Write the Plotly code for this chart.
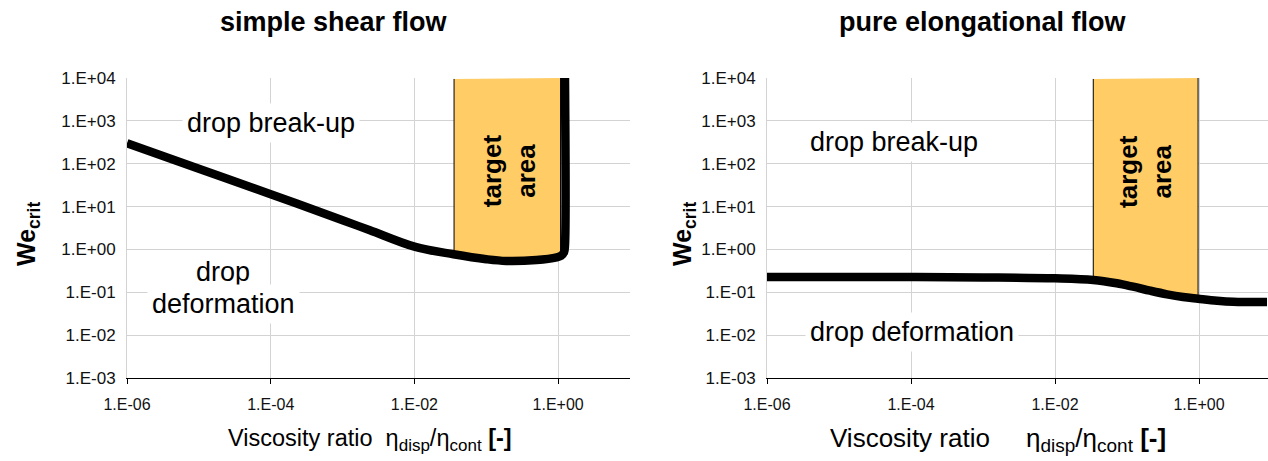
import plotly.graph_objects as go
from plotly.subplots import make_subplots

# ---- data -------------------------------------------------------------
# simple shear flow: critical Weber number vs viscosity ratio
shear_ratio = [1e-6, 1e-5, 1e-4, 1e-3, 2.4e-3, 1e-2, 3.5e-2, 0.1, 0.19, 0.5,
               0.955, 1.1, 1.21, 1.245, 1.245]
shear_we = [300, 76, 19.5, 4.8, 2.8, 1.16, 0.77, 0.59, 0.537, 0.566,
            0.655, 0.71, 0.87, 1.26, 1e4]

# pure elongational flow
elong_ratio = [1e-6, 1e-5, 1e-4, 1e-3, 1e-2, 0.034, 0.072, 0.121, 0.209, 0.36,
               0.60, 0.97, 1.78, 2.97, 8.8]
elong_we = [0.227, 0.227, 0.226, 0.222, 0.212, 0.194, 0.162, 0.135, 0.109, 0.0897,
            0.0776, 0.0708, 0.0636, 0.060, 0.059]

# target areas (ratio / We outlines)
shear_target_ratio = [0.0356, 0.0356, 0.1, 0.19, 0.5, 0.955, 1.08, 1.08]
shear_target_we = [9.5e3, 0.77, 0.59, 0.537, 0.566, 0.655, 0.70, 1e4]

elong_target_ratio = [0.034, 0.034, 0.072, 0.121, 0.209, 0.36, 0.60, 0.97, 0.97]
elong_target_we = [9.5e3, 0.194, 0.162, 0.135, 0.109, 0.0897, 0.0776, 0.0708, 1e4]

x_tick_vals = [1e-6, 1e-4, 1e-2, 1e0]
x_tick_text = ["1.E-06", "1.E-04", "1.E-02", "1.E+00"]
y_tick_vals = [1e-3, 1e-2, 1e-1, 1e0, 1e1, 1e2, 1e3, 1e4]
y_tick_text = ["1.E-03", "1.E-02", "1.E-01", "1.E+00", "1.E+01", "1.E+02",
               "1.E+03", "1.E+04"]

titles = ["simple shear flow", "pure elongational flow"]

# ---- styling ----------------------------------------------------------
FONT = "Arial, 'Liberation Sans', sans-serif"
GRID = "#d3d3d3"
TARGET_FILL = "#FFCC66"
W, H = 1268, 461
L, R, T, B = 127, 0, 78, 83
PW = W - L - R
PH = H - T - B


def px_x(p):
    return (p - L) / PW


def px_y(p):
    return (H - B - p) / PH


fig = make_subplots(rows=1, cols=2, horizontal_spacing=0.05)

for col, (tx, ty, cx, cy) in enumerate(
        [(shear_target_ratio, shear_target_we, shear_ratio, shear_we),
         (elong_target_ratio, elong_target_we, elong_ratio, elong_we)], start=1):
    fig.add_trace(go.Scatter(x=tx, y=ty, mode="lines", fill="toself",
                             fillcolor=TARGET_FILL,
                             line=dict(color="black", width=1),
                             hoverinfo="skip", showlegend=False), row=1, col=col)
    fig.add_trace(go.Scatter(x=cx, y=cy, mode="lines",
                             line=dict(color="black", width=8.5,
                                       shape="spline", smoothing=1.0),
                             showlegend=False), row=1, col=col)

x_domains = [[0, px_x(630)], [px_x(767), 1.0]]
x_ranges = [[-6, 1], [-6, 0.958]]
for i in range(2):
    xa = "xaxis" if i == 0 else "xaxis2"
    ya = "yaxis" if i == 0 else "yaxis2"
    fig.layout[xa].update(
        type="log", range=x_ranges[i], domain=x_domains[i],
        tickvals=x_tick_vals, ticktext=x_tick_text,
        showgrid=True, gridcolor=GRID, gridwidth=1,
        showline=True, linecolor="black", linewidth=1,
        ticks="outside", ticklen=5, tickcolor="black", tickwidth=1,
        ticklabelstandoff=7,
        tickfont=dict(family=FONT, size=16, color="#111"),
        zeroline=False)
    fig.layout[ya].update(
        type="log", range=[-3, 4], domain=[0, 1],
        tickvals=y_tick_vals, ticktext=y_tick_text,
        showgrid=True, gridcolor=GRID, gridwidth=1,
        showline=True, linecolor=GRID, linewidth=1,
        ticks="", ticklabelstandoff=7,
        tickfont=dict(family=FONT, size=17, color="#111"),
        zeroline=False)

annotations = []


def label(text, x, y, xref, yref, size, bold=False, angle=0, bg=None):
    annotations.append(dict(
        text=f"<b>{text}</b>" if bold else text, x=x, y=y, xref=xref, yref=yref,
        showarrow=False, textangle=angle, xanchor="center", yanchor="middle",
        font=dict(family=FONT, size=size, color="black"),
        bgcolor=bg, borderpad=4))


# region labels
label("drop break-up", -4.0, 2.95, "x", "y", 27, bg="white")
label("drop", -4.66, -0.52, "x", "y", 27, bg="white")
label("deformation", -4.66, -1.28, "x", "y", 27, bg="white")
label("target<br>area", -0.684, 1.85, "x", "y", 26, bold=True, angle=-90)

label("drop break-up", -4.24, 2.51, "x2", "y2", 27, bg="white")
label("drop deformation", -3.99, -1.93, "x2", "y2", 27, bg="white")
label("target<br>area", -0.75, 1.81, "x2", "y2", 26, bold=True, angle=-90)

# panel titles
label(titles[0], px_x(334), px_y(22), "paper", "paper", 27, bold=True)
label(titles[1], px_x(983), px_y(22), "paper", "paper", 27, bold=True)


# axis titles
def ratio_title(gap, sub_px):
    sub = lambda s: f"<sub><span style='font-size:{sub_px}px'>{s}</span></sub>"
    return ("Viscosity ratio" + "\u00a0" * gap + " \u03b7" + sub("disp") +
            "/\u03b7" + sub("cont") + " <b>[-]</b>")


label(ratio_title(1, 17), px_x(370), px_y(440), "paper", "paper", 23.5)
label(ratio_title(4, 19), px_x(998), px_y(440), "paper", "paper", 26)

yt = "We<sub>crit</sub>"
label(yt, px_x(28), px_y(234), "paper", "paper", 25, bold=True, angle=-90)
label(yt, px_x(684), px_y(234), "paper", "paper", 25, bold=True, angle=-90)

fig.update_layout(
    width=W, height=H,
    margin=dict(l=L, r=R, t=T, b=B),
    paper_bgcolor="white", plot_bgcolor="white",
    showlegend=False,
    annotations=annotations,
    font=dict(family=FONT),
)

fig.write_html("out.html")
